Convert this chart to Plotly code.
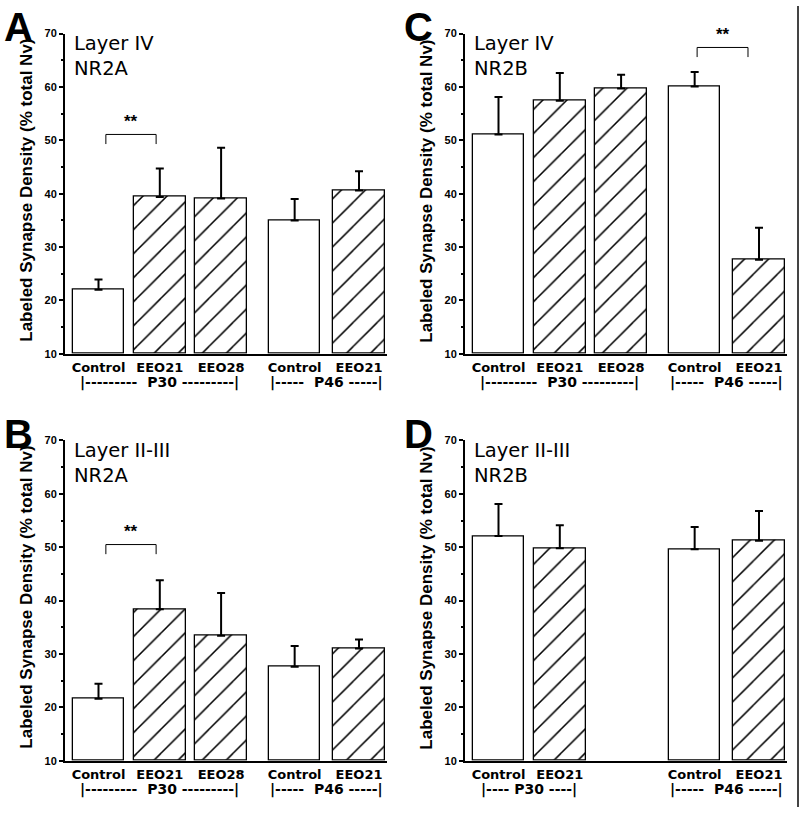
import plotly.graph_objects as go

# ---------------- data ----------------
positions = [0, 1, 2, 3.2, 4.25]
cats_5 = ["Control", "EEO21", "EEO28", "Control", "EEO21"]
cats_4 = ["Control", "EEO21", "Control", "EEO21"]
pos_4 = [0, 1, 3.2, 4.25]
hatched_5 = [False, True, True, False, True]
hatched_4 = [False, True, False, True]

A_vals = [22.0, 39.4, 39.1, 35.0, 40.6]
A_err = [1.9, 5.3, 9.5, 4.0, 3.6]
C_vals = [51.1, 57.4, 59.7, 60.1, 27.6]
C_err = [7.0, 5.2, 2.6, 2.7, 6.0]
B_vals = [21.6, 38.4, 33.4, 27.6, 31.0]
B_err = [2.8, 5.4, 8.0, 3.9, 1.7]
D_vals = [52.1, 49.8, 49.6, 51.2]
D_err = [6.0, 4.3, 4.2, 5.6]

y_ticks = [10, 20, 30, 40, 50, 60, 70]
y_minor = [15, 25, 35, 45, 55, 65]

panel_letters = ["A", "C", "B", "D"]
panel_text = [["Layer IV", "NR2A"], ["Layer IV", "NR2B"],
              ["Layer II-III", "NR2A"], ["Layer II-III", "NR2B"]]
# significance brackets: (from pos, to pos, bracket top value, tick drop)
sig = [(0.12, 0.94, 51.1, 1.8), (3.24, 4.07, 67.4, 1.8), (0.12, 0.94, 50.5, 1.8), None]

group_labels = [
    [("|---------  P30 ---------|", 1.0), ("|-----  P46 -----|", 3.725)],
    [("|---------  P30 ---------|", 1.0), ("|-----  P46 -----|", 3.725)],
    [("|---------  P30 ---------|", 1.0), ("|-----  P46 -----|", 3.725)],
    [("|---- P30 ----|", 0.5), ("|-----  P46 -----|", 3.725)],
]

# page body margin is removed below, so figure pixels == page pixels
W, H = 800, 813


def px(x):
    return x / W


def py(y):
    return 1 - y / H


# reference pixel geometry of each panel: (x_left, x_right, y_top(70), y_bottom(10))
geom = [(65, 387, 28, 353), (465, 787, 28, 353), (65, 387, 441, 766), (465, 787, 441, 766)]

panels = [
    (positions, cats_5, A_vals, A_err, hatched_5),
    (positions, cats_5, C_vals, C_err, hatched_5),
    (positions, cats_5, B_vals, B_err, hatched_5),
    (pos_4, cats_4, D_vals, D_err, hatched_4),
]

fig = go.Figure()
annotations = []
layout = dict()

AXFONT = "Liberation Sans, Arial, sans-serif"
VFONT = "DejaVu Sans, Verdana, sans-serif"

for i, (pos, cats, vals, errs, hatch) in enumerate(panels):
    n = i + 1
    xa = "x" if n == 1 else f"x{n}"
    ya = "y" if n == 1 else f"y{n}"
    xl, xr, yt, yb = geom[i]
    shapes_fill = ["/" if h else "" for h in hatch]
    fig.add_trace(go.Bar(
        x=pos, y=[v - 10 for v in vals], base=10, width=0.84,
        marker=dict(color="white", line=dict(color="black", width=1.3),
                    pattern=dict(shape=shapes_fill, fgcolor="black", bgcolor="white",
                                 fgopacity=1, size=17, solidity=0.09)),
        error_y=dict(type="data", array=errs, arrayminus=[0] * len(errs), symmetric=False,
                     color="black", thickness=2, width=4),
        showlegend=False, xaxis=xa, yaxis=ya,
    ))

    if sig[i] is not None:
        x0, x1, top, drop = sig[i]
        fig.add_trace(go.Scatter(x=[x0, x0, x1, x1], y=[top - drop, top, top, top - drop],
                                 mode="lines", line=dict(color="black", width=1),
                                 showlegend=False, hoverinfo="skip", xaxis=xa, yaxis=ya))
        annotations.append(dict(x=(x0 + x1) / 2, y=top + 0.2, xref=xa, yref=ya, text="<b>**</b>",
                                showarrow=False, yanchor="bottom",
                                font=dict(family=AXFONT, size=17, color="black")))

    unit = 61.3
    x0r = -(33.5 / unit)
    x1r = (xr - xl - 33.5) / unit
    layout["xaxis" if n == 1 else f"xaxis{n}"] = dict(
        domain=[px(xl), px(xr)], anchor=ya, range=[x0r, x1r], tickvals=pos, ticktext=cats,
        showline=True, linecolor="black", linewidth=2, ticks="", showgrid=False,
        zeroline=False, tickfont=dict(family=VFONT, size=13, color="black", weight="bold"),
        ticklabelstandoff=1,
    )
    layout["yaxis" if n == 1 else f"yaxis{n}"] = dict(
        domain=[py(yb), py(yt)], anchor=xa, range=[10, 70], tickvals=y_ticks,
        showline=True, linecolor="black", linewidth=2, ticks="outside", ticklen=4,
        tickwidth=1.5, tickcolor="black", showgrid=False, zeroline=False,
        tickfont=dict(family=AXFONT, size=11, color="black", weight="bold"),
        minor=dict(tickvals=y_minor, ticks="outside", ticklen=2,
                   tickwidth=1.5, tickcolor="black"),
    )

    # panel letter
    annotations.append(dict(x=px(xl - 62), y=py(yt - 7), xref="paper", yref="paper",
                            text=f"<b>{panel_letters[i]}</b>", showarrow=False,
                            xanchor="left", yanchor="middle", borderpad=0,
                            font=dict(family=AXFONT, size=40, color="black")))
    # panel text
    annotations.append(dict(x=px(xl + 7), y=py(yt - 4), xref="paper", yref="paper",
                            text="<br>".join(panel_text[i]), showarrow=False, align="left",
                            xanchor="left", yanchor="top",
                            font=dict(family=VFONT, size=19.5, color="black")))
    # y title
    annotations.append(dict(x=px(xl - 38), y=py((yt + yb) / 2 - 3), xref="paper",
                            yref="paper", text="<b>Labeled Synapse Density (% total Nv)</b>",
                            showarrow=False, textangle=-90, xanchor="center", yanchor="middle",
                            font=dict(family=AXFONT, size=17, color="black")))
    # group labels
    for txt, gx in group_labels[i]:
        annotations.append(dict(x=gx, y=py(yb + 29), xref=xa, yref="paper",
                                text=f"<b>{txt}</b>", showarrow=False, xanchor="center",
                                yanchor="middle",
                                font=dict(family=VFONT, size=14, color="black")))

fig.update_layout(
    width=W, height=H, margin=dict(l=0, r=0, t=0, b=0),
    paper_bgcolor="white", plot_bgcolor="white",
    annotations=annotations, bargap=0,
    shapes=[dict(type="line", xref="paper", yref="paper", x0=px(798), x1=px(798), y0=0, y1=1,
                 line=dict(color="#444444", width=2))],
    **layout,
)
fig.write_html("out.html", config={"displayModeBar": False},
               post_script="document.body.style.margin='0';document.body.style.overflow='hidden';")
